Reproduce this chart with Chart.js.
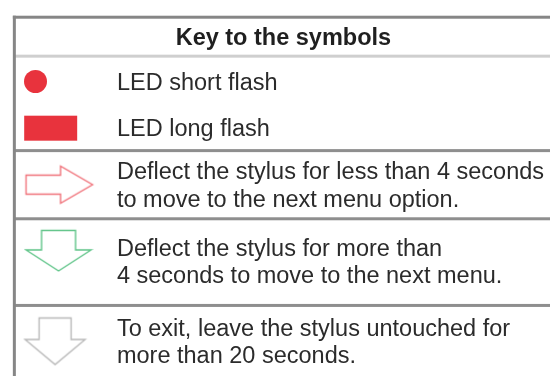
<!DOCTYPE html>
<html>
<head>
<meta charset="utf-8">
<title>Key to the symbols</title>
<script src="https://cdn.jsdelivr.net/npm/chart.js@4.4.1/dist/chart.umd.min.js"></script>
<style>
  html, body { margin: 0; padding: 0; background: #fff; }
  #wrap { width: 555px; height: 381px; }
</style>
</head>
<body>
<div id="wrap"><canvas id="keyChart" width="555" height="381"></canvas></div>
<script>
// --- Data ---
const title = 'Key to the symbols';
const symbols = ['dot', 'bar', 'arrowRight', 'arrowDown', 'arrowDown'];
const descriptions = [
    ['LED short flash'],
    ['LED long flash'],
    ['Deflect the stylus for less than 4 seconds', 'to move to the next menu option.'],
    ['Deflect the stylus for more than', '4 seconds to move to the next menu.'],
    ['To exit, leave the stylus untouched for', 'more than 20 seconds.']
];

// --- Layout (pixel space of the chart) ---
const W = 555, H = 381;
const symbolX = [31, 46.5, 55, 54.5, 51];
const symbolY = [78.5, 126.5, 184.5, 252, 345];
const textX = 114;
const firstBaseline = [87, 135, 179, 258, 340];
const lineGap = 28;
const headerX = 283.5, headerBaseline = 41;
const separators = [149, 219, 308];

// --- Styles ---
const RED = '#e8333d';
const symbolColors = [RED, RED, '#f0727a', '#5fc488', '#b8b8b8'];
// [width, height] of each symbol, plus arrow shaft size
const symbolSize = [[23, 23], [53, 25], [67, 38], [66, 41], [61, 47]];
const shaftSize = [null, null, [35, 19], [34, 20], [32, 22]];
const FONT = '"Liberation Sans", Arial, sans-serif';
const FONT_SIZE = 23.5;

// Build a canvas-based point style for each symbol
function makeSymbol(kind, color, size, shaft) {
    const [w, h] = size;
    const c = document.createElement('canvas');
    c.width = w + 4; c.height = h + 4;
    const ctx = c.getContext('2d');
    ctx.translate(2, 2);
    ctx.fillStyle = color;
    ctx.strokeStyle = color;
    ctx.lineWidth = 1.4;
    ctx.lineJoin = 'miter';
    if (kind === 'dot') {
        ctx.beginPath();
        ctx.arc(w / 2, h / 2, w / 2, 0, Math.PI * 2);
        ctx.fill();
    } else if (kind === 'bar') {
        ctx.fillRect(0, 0, w, h);
    } else if (kind === 'arrowRight') {
        const [sl, sh] = shaft;
        const t = (h - sh) / 2;
        ctx.beginPath();
        ctx.moveTo(0.5, t);
        ctx.lineTo(sl, t);
        ctx.lineTo(sl, 0.5);
        ctx.lineTo(w, h / 2);
        ctx.lineTo(sl, h - 0.5);
        ctx.lineTo(sl, h - t);
        ctx.lineTo(0.5, h - t);
        ctx.closePath();
        ctx.stroke();
    } else {
        const [sw, sl] = shaft;
        const l = (w - sw) / 2;
        ctx.beginPath();
        ctx.moveTo(l, 0.5);
        ctx.lineTo(w - l, 0.5);
        ctx.lineTo(w - l, sl);
        ctx.lineTo(w - 0.5, sl);
        ctx.lineTo(w / 2, h);
        ctx.lineTo(0.5, sl);
        ctx.lineTo(l, sl);
        ctx.closePath();
        ctx.stroke();
    }
    return c;
}

const pointStyles = symbols.map((s, i) => makeSymbol(s, symbolColors[i], symbolSize[i], shaftSize[i]));

// --- Table frame (drawn under the symbols) ---
const tableFrame = {
    id: 'tableFrame',
    beforeDatasetsDraw(chart) {
        const { ctx, scales: { x, y } } = chart;
        const px = v => x.getPixelForValue(v);
        const py = v => y.getPixelForValue(v);
        ctx.save();
        // header separator (light)
        ctx.fillStyle = '#cfcfcf';
        ctx.fillRect(px(10), py(51), px(W) - px(10), 3);
        // row separators
        ctx.fillStyle = '#8e8e8e';
        separators.forEach(s => ctx.fillRect(px(10), py(s - 1), px(W) - px(10), 3));
        // outer border
        ctx.fillStyle = '#868686';
        ctx.fillRect(px(8), py(11), px(W) - px(8), 3);
        ctx.fillRect(px(8), py(11), 3, py(H) - py(11));
        ctx.restore();
    }
};

// --- Text labels (drawn over everything) ---
const tableText = {
    id: 'tableText',
    afterDatasetsDraw(chart) {
        const { ctx, scales: { x, y } } = chart;
        ctx.save();
        ctx.textBaseline = 'alphabetic';
        ctx.fillStyle = '#1f1f1f';
        ctx.font = 'bold ' + FONT_SIZE + 'px ' + FONT;
        ctx.textAlign = 'center';
        ctx.fillText(title, x.getPixelForValue(headerX), y.getPixelForValue(headerBaseline));

        ctx.font = FONT_SIZE + 'px ' + FONT;
        ctx.textAlign = 'left';
        ctx.fillStyle = '#2b2b2b';
        descriptions.forEach((lines, i) => {
            lines.forEach((line, j) => {
                ctx.fillText(line, x.getPixelForValue(textX),
                    y.getPixelForValue(firstBaseline[i] + j * lineGap));
            });
        });
        ctx.restore();
    }
};

new Chart(document.getElementById('keyChart'), {
    type: 'scatter',
    data: {
        datasets: [{
            data: symbols.map((s, i) => ({ x: symbolX[i], y: symbolY[i] })),
            pointStyle: pointStyles,
            pointRadius: 5,
            borderWidth: 0
        }]
    },
    options: {
        responsive: false,
        animation: false,
        events: [],
        layout: { padding: 0 },
        plugins: { legend: { display: false }, tooltip: { enabled: false } },
        scales: {
            x: { type: 'linear', min: 0, max: W, display: false },
            y: { type: 'linear', min: 0, max: H, reverse: true, display: false }
        }
    },
    plugins: [tableFrame, tableText]
});
</script>
</body>
</html>
